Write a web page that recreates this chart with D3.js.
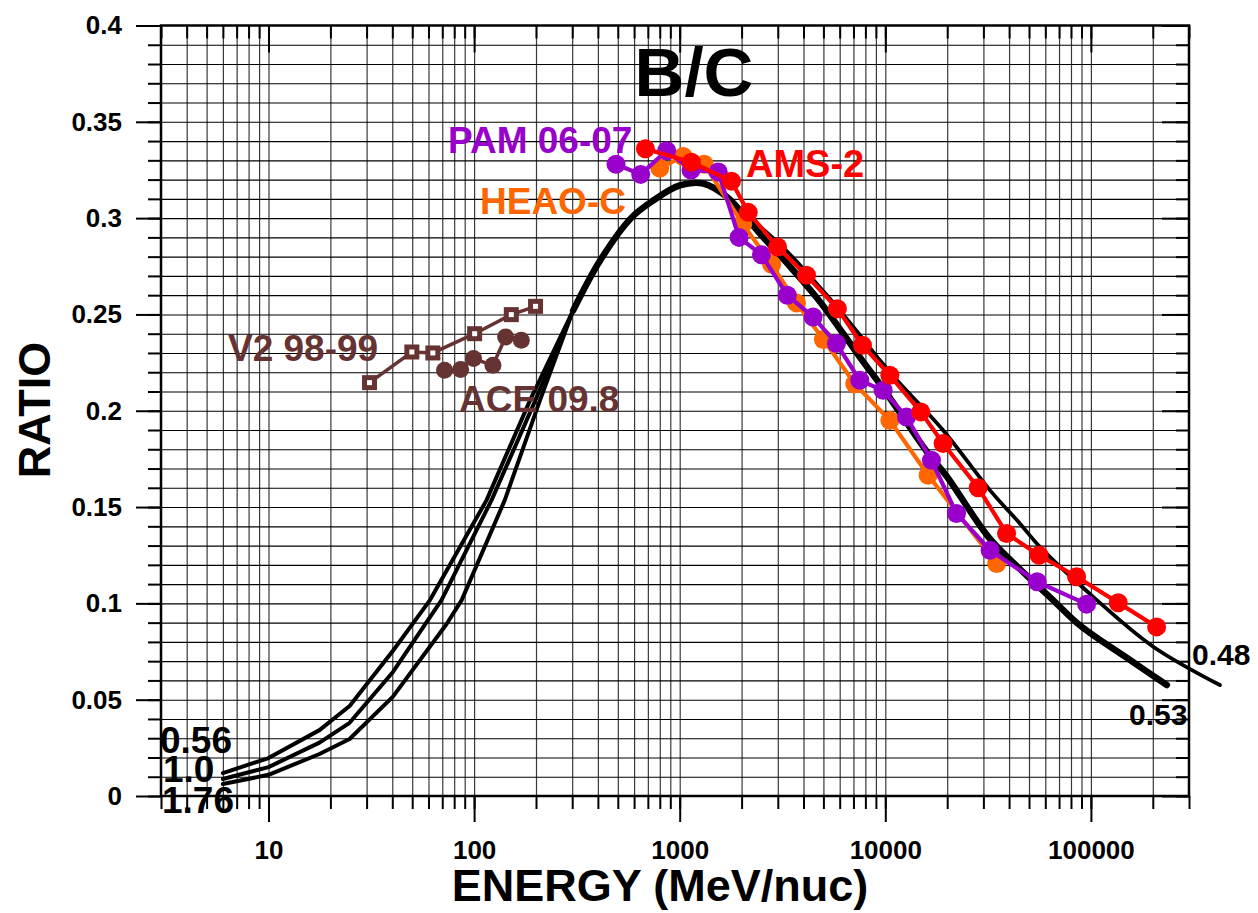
<!DOCTYPE html>
<html><head><meta charset="utf-8">
<script src="https://cdn.jsdelivr.net/npm/d3@7"></script>
<style>
body{margin:0;background:#fff}
svg{display:block}
text{font-family:"Liberation Sans",Arial,Helvetica,sans-serif;font-weight:bold}
</style>
</head><body><svg id="c" width="1258" height="913"></svg>
<script>
// ---------- tick values / labels ----------
const xMajorTicks = [10, 100, 1000, 10000, 100000];
const xTickLabels = ["10", "100", "1000", "10000", "100000"];
const yMajorTicks = [0, 0.05, 0.1, 0.15, 0.2, 0.25, 0.3, 0.35, 0.4];
const yTickLabels = ["0", "0.05", "0.1", "0.15", "0.2", "0.25", "0.3", "0.35", "0.4"];

// ---------- model curves (low energy, three modulation levels) ----------
const curve056E = [6, 10, 17.7, 24.8, 40.3, 61, 115, 187, 303];
const curve056Y = [0.0119, 0.0197, 0.0342, 0.0467, 0.0754, 0.1017, 0.1536, 0.2054, 0.252];
const curve100E = [6, 10, 17.7, 24.8, 40.3, 69.4, 121.6, 198.5, 303];
const curve100Y = [0.0088, 0.015, 0.0277, 0.038, 0.0644, 0.1017, 0.1536, 0.2054, 0.252];
const curve176E = [6, 10, 17.7, 24.8, 40.3, 73.5, 87, 141, 209, 303];
const curve176Y = [0.0062, 0.011, 0.0218, 0.0296, 0.0516, 0.0893, 0.1017, 0.1536, 0.2054, 0.252];
// common high-energy part (label 0.53)
const curve053E = [303, 410, 580, 740, 1000, 1300, 1700, 2000, 2500, 3300, 4780, 7500, 10000, 15870, 20000, 32000, 45000, 65000, 88600, 155000, 234000];
const curve053Y = [0.252, 0.278, 0.300, 0.309, 0.317, 0.318, 0.311, 0.303, 0.291, 0.277, 0.257, 0.228, 0.210, 0.179, 0.1656, 0.134, 0.118, 0.102, 0.0885, 0.0706, 0.0576];
// label 0.48
const curve048E = [1700, 2000, 3170, 5000, 7560, 9410, 11400, 19100, 32250, 45120, 56500, 102600, 201000, 424000];
const curve048Y = [0.311, 0.304, 0.285, 0.262, 0.239, 0.2262, 0.2158, 0.1899, 0.1588, 0.1415, 0.1293, 0.1034, 0.0775, 0.0576];

// ---------- data ----------
const pamE = [490, 646, 864, 1135, 1540, 1944, 2498, 3336, 4454, 5788, 7516, 9759, 12680, 16770, 22200, 32330, 54800, 95300];
const pamY = [0.328, 0.3227, 0.335, 0.325, 0.324, 0.290, 0.281, 0.260, 0.2487, 0.2349, 0.2158, 0.2106, 0.1968, 0.1743, 0.1467, 0.1276, 0.1112, 0.0996];
const heaoE = [800, 1040, 1315, 2026, 2800, 3700, 5000, 7100, 10520, 16160, 34810];
const heaoY = [0.326, 0.332, 0.328, 0.297, 0.276, 0.256, 0.237, 0.214, 0.195, 0.1665, 0.1207];
const amsE = [681, 1140, 1785, 2154, 2992, 4135, 5850, 7745, 10520, 14880, 19110, 28290, 38900, 56000, 85200, 135800, 208700];
const amsY = [0.336, 0.329, 0.3192, 0.303, 0.285, 0.2703, 0.253, 0.234, 0.2184, 0.1994, 0.183, 0.160, 0.1363, 0.125, 0.1138, 0.1003, 0.0878];
const v2E = [31, 49.8, 63, 100.6, 151.7, 199];
const v2Y = [0.2146, 0.2305, 0.230, 0.240, 0.2499, 0.2542];
const aceE = [71.8, 86.0, 99.4, 123.5, 142.3, 169.7];
const aceY = [0.221, 0.2214, 0.2271, 0.2236, 0.2383, 0.2366];

// ---------- layout ----------
const L = 161, R = 1189, T = 25.5, B = 796;
const x = d3.scaleLog().domain([3, 300000]).range([L, R]);
const y = d3.scaleLinear().domain([0, 0.4]).range([B, T]);
const xMinor = x.ticks();
const yMinor = d3.range(0, 41).map(i => i / 100);

const svg = d3.select("#c");
const C = {purple: "#9900cc", red: "#ff0000", orange: "#ff6600", brown: "#663333"};

// gridlines via axes
const gx = svg.append("g").attr("transform", `translate(0,${B})`)
  .call(d3.axisBottom(x).tickValues(xMinor.filter(v => v > 3 && v < 300000)).tickSize(-(B - T)).tickFormat(""));
gx.select(".domain").remove();
gx.selectAll("line").attr("stroke", "#3a3a3a").attr("stroke-width", 1.2);
const gy = svg.append("g").attr("transform", `translate(${L},0)`)
  .call(d3.axisLeft(y).tickValues(yMinor.filter(v => v > 0 && v < 0.4)).tickSize(-(R - L)).tickFormat(""));
gy.select(".domain").remove();
gy.selectAll("line").attr("stroke", "#000").attr("stroke-width", 1.1);

function styleAxis(g) {
  g.select(".domain").remove();
  g.selectAll("line").attr("stroke", "#000").attr("stroke-width", 2);
  g.attr("font-size", 26).attr("font-family", '"Liberation Sans",Arial,sans-serif').attr("font-weight", "bold");
  g.selectAll("text").attr("fill", "#000");
}
// bottom
styleAxis(svg.append("g").attr("transform", `translate(0,${B})`)
  .call(d3.axisBottom(x).tickValues(xMinor).tickSize(13).tickFormat("")));
styleAxis(svg.append("g").attr("transform", `translate(0,${B})`)
  .call(d3.axisBottom(x).tickValues(xMajorTicks).tickSize(26).tickPadding(19).tickFormat((d, i) => xTickLabels[i])));
// top
styleAxis(svg.append("g").attr("transform", `translate(0,${T})`)
  .call(d3.axisTop(x).tickValues(xMinor).tickSize(-13).tickFormat("")));
styleAxis(svg.append("g").attr("transform", `translate(0,${T})`)
  .call(d3.axisTop(x).tickValues(xMajorTicks).tickSize(-27).tickFormat("")));
// left
styleAxis(svg.append("g").attr("transform", `translate(${L},0)`)
  .call(d3.axisLeft(y).tickValues(yMinor).tickSize(13).tickFormat("")));
styleAxis(svg.append("g").attr("transform", `translate(${L},0)`)
  .call(d3.axisLeft(y).tickValues(yMajorTicks).tickSize(25).tickPadding(14).tickFormat((d, i) => yTickLabels[i])));
// right
styleAxis(svg.append("g").attr("transform", `translate(${R},0)`)
  .call(d3.axisRight(y).tickValues(yMinor).tickSize(-13).tickFormat("")));
styleAxis(svg.append("g").attr("transform", `translate(${R},0)`)
  .call(d3.axisRight(y).tickValues(yMajorTicks).tickSize(-27).tickFormat("")));

// frame
svg.append("rect").attr("x", L).attr("y", T).attr("width", R - L).attr("height", B - T)
  .attr("fill", "none").attr("stroke", "#000").attr("stroke-width", 2.5);

// ---------- curves ----------
const line = d3.line().x(d => x(d[0])).y(d => y(d[1]));
const smooth = d3.line().x(d => x(d[0])).y(d => y(d[1])).curve(d3.curveCatmullRom.alpha(0.5));
const gc = svg.append("g").attr("fill", "none").attr("stroke", "#000").attr("stroke-linejoin", "round").attr("stroke-linecap", "round");
[[curve056E, curve056Y], [curve100E, curve100Y], [curve176E, curve176Y]].forEach(([e, v]) => {
  gc.append("path").attr("d", line(d3.zip(e, v))).attr("stroke-width", 4);
});
gc.append("path").attr("d", smooth(d3.zip(curve053E, curve053Y))).attr("stroke-width", 6.5);
gc.append("path").attr("d", smooth(d3.zip(curve048E, curve048Y))).attr("stroke-width", 3.8);

// ---------- data series ----------
function series(E, V, color, lw, r) {
  const pts = d3.zip(E, V);
  const g = svg.append("g");
  g.append("path").attr("d", line(pts)).attr("fill", "none").attr("stroke", color).attr("stroke-width", lw).attr("stroke-linejoin", "round");
  g.selectAll("circle").data(pts).join("circle")
    .attr("cx", d => x(d[0])).attr("cy", d => y(d[1])).attr("r", r).attr("fill", color);
}
series(heaoE, heaoY, C.orange, 4.2, 9.5);
series(pamE, pamY, C.purple, 4.2, 9.5);
series(amsE, amsY, C.red, 4.2, 9.5);
series(aceE, aceY, C.brown, 3.5, 8.5);
// V2 open squares
{
  const pts = d3.zip(v2E, v2Y);
  const g = svg.append("g");
  g.append("path").attr("d", line(pts)).attr("fill", "none").attr("stroke", C.brown).attr("stroke-width", 3.5);
  g.selectAll("rect").data(pts).join("rect")
    .attr("x", d => x(d[0]) - 5).attr("y", d => y(d[1]) - 5).attr("width", 10).attr("height", 10)
    .attr("fill", "#fff").attr("stroke", C.brown).attr("stroke-width", 5);
}

// ---------- texts ----------
function label(t, px, py, size, color, anchor) {
  svg.append("text").attr("x", px).attr("y", py).attr("font-size", size).attr("fill", color)
    .attr("text-anchor", anchor || "start").text(t);
}
label("B/C", 694, 96, 69, "#000", "middle");
label("PAM 06-07", 448, 153, 37, C.purple);
label("AMS-2", 746, 177, 38, C.red);
label("HEAO-C", 480, 214, 37, C.orange);
label("V2 98-99", 228, 360.5, 37, C.brown);
label("ACE 09.8", 459, 411.5, 37, C.brown);
label("0.56", 160, 752.5, 37, "#000");
label("1.0", 163, 781.5, 37, "#000");
label("1.76", 162, 813, 37, "#000");
label("0.48", 1192, 665, 30, "#000");
label("0.53", 1129, 725, 30, "#000");
label("ENERGY (MeV/nuc)", 660, 901, 45, "#000", "middle");
svg.append("text").attr("transform", "translate(50,410) rotate(-90)").attr("text-anchor", "middle")
  .attr("font-size", 45).attr("fill", "#000").text("RATIO");
</script>
</body></html>
